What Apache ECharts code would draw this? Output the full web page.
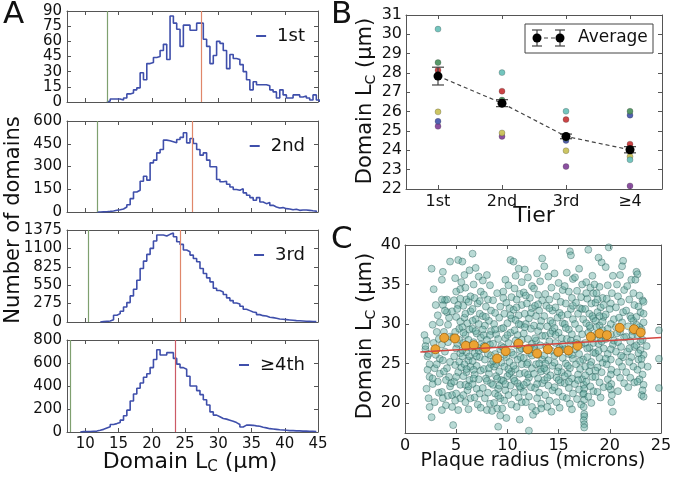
<!DOCTYPE html>
<html><head><meta charset="utf-8">
<script src="https://cdn.jsdelivr.net/npm/echarts@6/dist/echarts.min.js"></script>
<style>html,body{margin:0;padding:0;background:#fff}#c{width:677px;height:477px}</style>
</head><body><div id="c"></div>
<script>
// ---------- Panel A: histograms of domain Lc per tier ----------
const histBinWidth = 0.5;
const histStarts = [13.25, 11.75, 12.25, 9.25];
const hist1 = [1,3,3,3,2,4,8,9,12,14,29,22,38,39,44,45,51,57,42,85,78,72,55,76,76,71,71,78,78,62,55,38,46,60,58,51,33,47,43,42,37,30,22,12,20,17,17,17,16,12,10,4,12,7,4,4,7,7,5,6,4,2,7,2];
const hist2 = [0,1,2,4,7,11,15,20,33,48,88,132,143,203,236,210,324,342,390,412,474,470,463,456,478,492,523,456,485,452,412,375,390,342,298,298,214,199,203,183,165,148,143,154,126,110,95,77,95,66,55,62,44,33,26,29,22,20,15,18,11,13,13,11,8,6];
const hist3 = [5,10,15,35,100,125,160,225,290,390,490,625,800,910,1010,1100,1210,1300,1300,1285,1310,1330,1275,1200,1160,1075,1050,1000,950,900,800,725,660,600,505,470,450,410,360,320,285,270,235,190,170,150,140,110,95,90,70,65,55,45,40,35,30,25,20,18,15,12,10,8,6];
const hist4 = [3,3,4,6,8,15,23,35,45,65,73,82,103,141,190,270,330,380,426,476,506,560,630,715,670,670,690,690,640,590,560,545,485,400,400,360,325,280,235,175,147,133,118,112,103,94,82,65,44,60,60,58,53,50,41,36,29,26,23,20,18,15,12,12,10,10,8,8,7,6,5];
const histLabels = ['1st', '2nd', '3rd', '≥4th'];
const histYMax = [90, 600, 1375, 800];
const histYStep = [15, 150, 275, 200];
const greenLines = [13.25, 11.75, 10.5, 7.75];
const redLines = [27.5, 26.1, 24.35, 23.6];
const xTicksA = [10, 15, 20, 25, 30, 35, 40, 45];
const xMinA = 7.25, xMaxA = 45;

// ---------- Panel B: Lc per tier ----------
const tiers = ['1st', '2nd', '3rd', '≥4'];
const bCyan   = [30.27, 28.02, 26.02, 23.51];
const bGreen  = [28.54, 26.60, 24.62, 26.02];
const bRed    = [28.14, 27.06, 25.59, 24.32];
const bYellow = [25.99, 24.90, 23.98, 23.68];
const bBlue   = [25.50, 26.40, 24.51, 25.82];
const bPurple = [25.24, 24.72, 23.16, 22.16];
const bAvg    = [27.84, 26.44, 24.72, 24.03];
const bErr    = [0.46, 0.18, 0.12, 0.16];

// ---------- Panel C: Lc vs plaque radius ----------
const cAvgX = [2.97,3.83,4.88,5.94,6.73,7.85,9.0,9.83,11.08,12.0,12.9,13.95,14.97,15.96,16.85,18.14,19.0,19.72,20.97,22.36,23.02];
const cAvgY = [26.8,28.25,28.17,27.24,27.32,26.98,25.63,26.56,27.53,26.8,26.27,26.8,26.48,26.65,27.24,28.38,28.8,28.59,29.52,29.35,28.93];
const fitX = [1.5, 25];
const fitY = [26.45, 28.3];
const cScatter = [
[1.9,28.6],[2.1,27.9],[2.0,26.8],[2.2,25.9],[2.4,24.9],[2.2,24.2],[2.4,23.3],[2.1,21.8],[2.3,20.6],[2.4,19.5],[2.3,26.2],[2.0,27.2],
[2.6,37.0],[2.8,34.4],[3.0,32.4],[3.2,31.1],[2.7,29.9],[3.1,29.0],[3.4,25.6],[2.9,24.4],[3.4,23.7],[3.2,22.7],[2.6,18.2],[2.7,22.4],[3.0,26.1],[2.8,27.6],[3.3,28.1],[3.1,24.9],[2.9,20.1],[3.3,21.3],[3.4,30.2],[2.7,23.1],
[3.6,21.4],[3.7,20.6],[4.0,19.7],[3.6,19.1],[3.6,35.6],[3.7,36.6],[3.9,33.0],[3.7,32.4],[4.1,31.5],[4.2,29.9],[3.8,29.0],[4.2,27.7],[3.9,26.5],[4.4,25.2],[4.1,24.4],[4.3,23.3],[4.4,37.9],[3.8,24.0],[4.0,22.9],[3.6,27.4],[4.3,30.8],[3.9,31.7],[4.1,33.1],[4.4,22.1],[3.7,25.4],[4.2,20.9],[4.4,28.4],[3.6,33.1],
[4.5,22.5],[4.6,21.0],[4.6,19.5],[4.7,17.2],[5.2,38.1],[4.9,35.8],[5.0,34.1],[4.8,33.0],[5.2,32.4],[5.0,30.9],[5.4,30.3],[4.9,29.0],[5.3,28.0],[5.0,26.9],[5.4,26.3],[4.9,24.8],[5.2,23.9],[4.8,22.7],[5.4,22.3],[5.0,21.2],[5.4,20.6],[5.2,19.1],[5.1,27.5],[4.7,28.3],[5.3,25.2],[4.6,31.6],[5.4,33.2],[5.0,23.3],[4.8,25.9],[5.3,29.4],[5.5,35.3],[5.4,34.4],[5.1,31.9],[4.9,20.3],[5.5,24.5],
[5.6,37.9],[5.8,36.2],[5.9,34.6],[6.3,36.8],[6.0,33.1],[5.7,32.3],[6.2,32.8],[6.4,31.6],[5.8,30.8],[6.1,30.1],[5.6,29.6],[6.3,29.3],[5.9,28.6],[6.2,28.0],[5.7,27.6],[6.4,27.0],[6.0,26.4],[5.6,25.9],[6.2,25.4],[5.8,24.9],[6.4,24.6],[6.0,23.9],[5.7,23.4],[6.3,22.9],[5.9,22.3],[6.1,21.6],[5.7,21.0],[6.4,20.6],[5.9,20.1],[6.2,19.2],[5.6,26.7],[6.1,27.3],[5.9,31.3],[6.3,25.9],[6.0,24.3],[5.7,28.9],[6.4,33.5],[6.2,22.1],
[6.6,38.9],[6.9,37.1],[7.2,36.0],[6.7,35.0],[7.4,34.1],[6.8,33.3],[7.1,32.6],[6.6,31.9],[7.3,31.3],[6.9,30.6],[7.2,30.0],[6.6,29.4],[7.0,28.8],[7.4,28.3],[6.7,27.7],[7.1,27.0],[6.8,26.3],[7.3,25.8],[6.6,25.3],[7.0,24.7],[7.4,24.1],[6.8,23.6],[7.2,23.0],[6.6,22.4],[7.0,21.8],[7.3,21.2],[6.8,20.7],[7.1,19.8],[7.4,19.4],[6.7,23.1],[7.2,26.6],[6.9,29.1],[7.3,32.9],[6.7,24.2],[7.0,25.9],[7.4,27.4],[6.6,30.4],
[7.6,35.5],[8.0,36.2],[8.3,34.9],[7.7,33.7],[8.1,33.1],[7.9,32.2],[8.4,31.7],[7.6,31.0],[8.2,30.4],[7.8,29.8],[8.4,29.1],[7.7,28.6],[8.0,28.0],[8.3,27.4],[7.6,26.8],[8.1,26.2],[7.8,25.5],[8.4,24.9],[7.7,24.3],[8.2,23.7],[7.9,23.1],[8.4,22.5],[7.6,21.9],[8.1,21.3],[7.8,20.6],[8.3,19.9],[8.0,22.8],[7.7,27.2],[8.2,24.4],[8.4,26.0],[7.9,30.9],[8.0,19.1],[7.6,29.3],[8.3,28.6],
[8.6,33.0],[9.0,33.9],[9.3,32.2],[8.8,31.4],[9.2,30.8],[8.7,30.0],[9.4,29.4],[8.9,28.7],[9.1,28.1],[8.6,27.5],[9.3,26.8],[8.8,26.2],[9.0,25.6],[9.4,25.1],[8.7,24.6],[9.2,24.0],[8.9,23.4],[9.4,22.9],[8.6,22.3],[9.1,21.8],[8.8,21.2],[9.3,20.6],[8.7,20.0],[9.0,19.3],[8.5,19.0],[9.1,17.0],[9.3,18.4],[9.0,23.1],[9.2,22.2],[8.9,24.9],[9.4,27.2],[8.6,25.3],[9.1,20.9],[8.8,29.3],
[10.3,38.1],[9.8,35.6],[10.1,34.9],[9.6,34.1],[10.4,33.4],[9.9,32.7],[10.2,32.0],[9.7,31.3],[10.4,30.7],[10.0,30.1],[9.6,29.5],[10.3,28.9],[9.8,28.2],[10.1,27.6],[9.6,27.0],[10.4,26.4],[9.9,25.8],[10.2,25.2],[9.7,24.6],[10.4,24.0],[10.0,23.4],[9.6,22.8],[10.3,22.2],[9.8,21.6],[10.1,21.0],[9.7,20.3],[10.4,19.8],[9.5,19.3],[9.9,18.1],[10.2,23.7],[9.7,26.1],[10.0,28.6],[10.3,31.1],[9.8,22.4],[10.1,24.3],[9.6,33.3],
[10.6,37.9],[11.1,37.0],[10.8,36.1],[11.4,35.3],[10.7,34.5],[11.2,33.8],[10.9,33.1],[11.4,32.4],[10.6,31.8],[11.1,31.1],[10.8,30.5],[11.3,29.9],[10.7,29.2],[11.0,28.6],[11.4,28.0],[10.9,27.3],[11.2,26.7],[10.6,26.1],[11.0,25.5],[11.4,24.9],[10.8,24.3],[11.2,23.7],[10.6,23.1],[11.0,22.5],[11.3,21.9],[10.7,21.3],[11.1,20.7],[11.4,20.1],[10.9,19.5],[11.2,17.9],[10.7,22.8],[11.3,25.8],[10.8,27.9],[11.1,30.0],[10.6,24.7],[11.4,26.9],[10.9,32.1],[11.2,22.1],
[11.7,36.9],[12.0,35.9],[12.4,34.8],[11.6,34.0],[12.2,33.3],[11.9,32.6],[12.4,32.0],[11.7,31.3],[12.1,30.7],[11.8,30.0],[12.3,29.4],[11.6,28.8],[12.0,28.1],[12.4,27.5],[11.8,26.9],[12.2,26.3],[11.6,25.7],[12.0,25.1],[12.4,24.4],[11.7,23.8],[12.1,23.2],[11.9,22.6],[12.3,22.0],[11.6,21.4],[12.1,20.8],[11.8,20.1],[12.4,19.5],[12.1,16.5],[12.5,18.5],[11.9,24.9],[12.2,27.0],[11.7,29.6],[12.3,31.4],[11.6,22.3],[12.0,23.6],[12.4,26.0],[11.8,33.6],
[13.4,38.3],[12.9,36.4],[13.2,35.4],[12.6,34.5],[13.0,33.7],[13.4,33.0],[12.7,32.3],[13.1,31.7],[12.8,31.0],[13.3,30.4],[12.6,29.8],[13.0,29.1],[13.4,28.5],[12.8,27.9],[13.2,27.3],[12.6,26.7],[13.0,26.1],[13.4,25.5],[12.8,24.9],[13.2,24.3],[12.6,23.7],[13.0,23.1],[13.4,22.5],[12.7,21.9],[13.1,21.3],[12.9,20.6],[13.3,19.9],[12.8,19.0],[13.3,19.3],[13.1,25.0],[12.7,28.2],[13.2,29.7],[12.9,22.4],[13.0,32.5],[13.3,24.0],[12.6,27.0],
[13.6,37.3],[14.0,36.0],[14.3,34.6],[13.7,33.8],[14.1,33.1],[13.8,32.3],[14.4,31.7],[13.6,31.0],[14.2,30.4],[13.9,29.7],[14.4,29.1],[13.7,28.5],[14.1,27.8],[13.8,27.2],[14.3,26.6],[13.6,26.0],[14.0,25.4],[14.4,24.7],[13.8,24.1],[14.2,23.5],[13.6,22.9],[14.0,22.2],[14.4,21.6],[13.7,21.0],[14.1,20.3],[13.9,19.5],[14.3,18.9],[14.0,26.9],[13.7,25.0],[14.2,28.8],[13.9,23.2],[14.4,30.1],[13.6,24.4],[14.1,32.0],
[14.6,36.4],[15.0,35.2],[15.4,34.3],[14.8,33.5],[15.2,32.8],[14.7,32.1],[15.1,31.4],[14.9,30.8],[15.4,30.1],[14.6,29.5],[15.0,28.9],[15.3,28.2],[14.7,27.6],[15.1,27.0],[14.9,26.3],[15.4,25.7],[14.6,25.1],[15.0,24.5],[15.3,23.9],[14.8,23.2],[15.2,22.6],[14.6,22.0],[15.0,21.4],[15.4,20.8],[14.8,20.1],[15.1,19.4],[14.9,24.0],[15.2,26.7],[14.7,28.6],[15.3,31.1],[15.0,22.9],[14.6,26.0],[15.4,27.4],
[16.1,39.2],[16.2,38.7],[15.8,36.5],[16.4,35.7],[15.6,34.8],[16.0,34.1],[16.3,33.3],[15.7,32.6],[16.2,31.9],[15.9,31.2],[16.4,30.6],[15.6,30.0],[16.0,29.3],[16.3,28.7],[15.8,28.1],[16.2,27.4],[15.6,26.8],[16.0,26.2],[16.4,25.6],[15.7,25.0],[16.1,24.4],[15.9,23.7],[16.3,23.1],[15.6,22.5],[16.0,21.9],[16.4,21.2],[15.8,20.6],[16.1,19.9],[16.3,19.2],[15.9,24.7],[16.2,27.9],[15.7,29.5],[16.4,32.3],[16.0,22.7],[15.6,23.4],[16.3,26.1],
[17.0,37.0],[16.6,35.9],[17.3,35.0],[16.8,34.2],[17.2,33.4],[16.7,32.7],[17.1,32.0],[16.9,31.3],[17.4,30.6],[16.6,30.0],[17.0,29.4],[17.3,28.7],[16.8,28.1],[17.2,27.4],[16.6,26.8],[17.0,26.2],[17.4,25.5],[16.7,24.9],[17.1,24.3],[16.9,23.6],[17.3,23.0],[16.6,22.4],[17.0,21.7],[17.4,21.1],[16.8,20.5],[17.2,19.8],[17.45,22.3],[17.5,21.8],[17.45,21.2],[17.5,20.4],[17.45,19.5],[17.5,18.6],[17.5,18.3],[17.45,17.8],[17.5,17.3],[17.5,16.9],[17.1,25.3],[16.7,27.6],[17.3,31.9],[16.9,22.9],
[17.9,39.4],[18.3,36.1],[17.7,35.3],[18.1,34.6],[18.4,33.9],[17.8,33.2],[18.2,32.6],[17.6,31.9],[18.0,31.3],[18.4,30.7],[17.7,30.1],[18.1,29.5],[17.9,28.9],[18.3,28.3],[17.6,27.6],[18.0,27.0],[18.4,26.4],[17.8,25.8],[18.2,25.2],[17.6,24.6],[18.0,24.0],[18.3,23.3],[17.7,22.7],[18.1,22.1],[18.4,21.5],[17.9,20.8],[18.2,20.0],[18.0,29.8],[17.8,26.9],[18.3,31.0],[18.1,24.8],[17.7,33.9],[18.4,27.6],[17.6,23.5],
[18.9,38.4],[19.2,37.8],[18.5,35.0],[19.0,34.7],[18.7,33.9],[19.3,33.3],[18.6,32.7],[19.1,32.1],[18.8,31.5],[19.4,30.9],[18.6,30.4],[19.0,29.8],[19.3,29.2],[18.7,28.7],[19.1,28.1],[18.9,27.5],[19.4,26.9],[18.6,26.3],[19.0,25.7],[19.3,25.1],[18.8,24.5],[19.2,23.9],[18.6,23.3],[19.0,22.6],[19.4,22.0],[18.8,21.4],[19.1,20.7],[19.3,30.3],[18.7,29.6],[19.0,31.0],[18.9,26.6],[19.2,27.8],[18.6,24.1],[19.4,32.4],[18.8,33.1],
[19.9,39.7],[19.6,37.2],[20.3,36.1],[19.8,34.9],[20.2,33.9],[19.7,33.2],[20.1,32.6],[20.0,31.9],[19.6,31.2],[20.4,30.6],[20.1,30.0],[19.8,29.4],[20.1,28.7],[19.6,28.1],[20.3,27.4],[20.1,26.8],[19.8,26.2],[20.1,25.5],[19.7,24.9],[20.15,24.2],[20.1,23.6],[19.8,23.0],[20.15,22.4],[20.1,21.7],[20.2,21.0],[20.15,20.1],[20.3,18.9],[19.6,25.6],[20.4,27.9],[19.9,22.1],
[21.3,38.0],[21.2,37.3],[21.0,36.2],[20.7,35.0],[21.4,34.3],[20.8,33.5],[21.1,32.8],[20.6,32.1],[21.3,31.5],[20.9,30.8],[21.2,30.2],[20.6,29.6],[21.0,29.0],[21.4,28.3],[20.8,27.7],[21.1,27.1],[20.6,26.5],[21.3,25.8],[20.9,25.2],[21.2,24.6],[20.7,23.9],[21.0,23.2],[21.4,22.5],[20.8,21.5],[21.1,26.0],[20.7,28.8],
[22.1,35.6],[21.7,34.8],[22.3,33.9],[21.9,33.1],[22.4,32.4],[21.6,31.7],[22.0,31.0],[22.3,30.4],[21.8,29.7],[22.2,29.1],[21.6,28.4],[22.0,27.8],[22.4,27.1],[21.7,26.5],[22.1,25.8],[21.9,25.2],[22.3,24.6],[21.6,23.9],[22.0,23.2],[22.4,22.6],[21.8,22.0],[22.2,28.6],[21.9,26.9],[22.1,30.7],
[22.6,36.6],[22.7,36.3],[22.5,35.6],[23.2,33.0],[23.3,32.8],[22.8,32.2],[23.0,31.5],[22.6,30.9],[23.3,30.2],[22.9,29.6],[23.1,29.3],[22.7,28.6],[23.2,28.0],[22.6,27.3],[23.0,26.7],[23.3,26.1],[22.8,25.5],[23.1,24.8],[22.7,24.2],[23.2,23.6],[22.9,23.0],[23.3,22.3],[23.1,21.0],[23.3,20.8],[23.2,21.6],[22.8,26.3],[23.0,27.8],[22.6,29.9],[23.3,31.3],[22.9,33.6],[23.1,25.6],[22.7,22.7],
[24.8,29.2],[24.8,25.6],[24.8,21.9],[23.6,27.2],[23.7,24.6]
];

const FONT = 'DejaVu Sans';
const frameColor = '#555';
const histBlue = '#3f4fab';
const txt = '#111';

const grids = [
  {left: 67, top: 11, width: 251, height: 91},
  {left: 67, top: 121, width: 251, height: 91},
  {left: 67, top: 230, width: 251, height: 92},
  {left: 67, top: 340, width: 251, height: 92},
  {left: 406, top: 15, width: 256, height: 174},
  {left: 405, top: 245, width: 256, height: 188}
];

function plain(v) { return String(v); }
function ax(extra) {
  const base = {
    axisLine: {show: true, onZero: false, lineStyle: {color: frameColor, width: 1}},
    axisTick: {show: true, inside: true, length: 4, lineStyle: {color: frameColor}},
    axisLabel: {show: false, fontFamily: FONT, fontSize: 15, color: txt, margin: 5},
    splitLine: {show: false}
  };
  const o = Object.assign({}, base, extra);
  o.axisTick = Object.assign({}, base.axisTick, extra.axisTick || {});
  o.axisLabel = Object.assign({}, base.axisLabel, extra.axisLabel || {});
  if (o.type === 'value') o.axisLabel.formatter = plain;
  return o;
}

const xAxes = [], yAxes = [], series = [], legends = [];
const legendTop = [22, 132, 241, 351];
for (let i = 0; i < 4; i++) {
  const vals = [hist1, hist2, hist3, hist4][i];
  const s = histStarts[i];
  const data = [[s, 0]];
  for (let k = 0; k < vals.length; k++) data.push([s + (k + 1) * histBinWidth, vals[k]]);
  data.push([s + vals.length * histBinWidth, 0]);
  xAxes.push(ax({gridIndex: i, type: 'value', min: xMinA, max: xMaxA, position: 'bottom',
    axisTick: {customValues: xTicksA}, axisLabel: {show: i === 3, customValues: xTicksA}}));
  xAxes.push(ax({gridIndex: i, type: 'value', min: xMinA, max: xMaxA, position: 'top',
    axisTick: {customValues: xTicksA}}));
  yAxes.push(ax({gridIndex: i, type: 'value', min: 0, max: histYMax[i], interval: histYStep[i], position: 'left',
    axisLabel: {show: true}}));
  yAxes.push(ax({gridIndex: i, type: 'value', min: 0, max: histYMax[i], interval: histYStep[i], position: 'right'}));
  series.push({
    type: 'line', name: histLabels[i], xAxisIndex: 2 * i, yAxisIndex: 2 * i, data: data, step: 'start',
    symbol: 'none', showSymbol: false, lineStyle: {color: histBlue, width: 1.6}, itemStyle: {color: histBlue},
    animation: false, z: 3,
    markLine: {silent: true, symbol: ['none', 'none'], label: {show: false}, animation: false,
      data: [
        {xAxis: greenLines[i], lineStyle: {color: '#7fa06f', width: 1.2, type: 'solid'}},
        {xAxis: redLines[i], lineStyle: {color: i === 3 ? '#cc5a66' : '#e0876a', width: 1.2, type: 'solid'}}
      ]}
  });
  legends.push({data: [histLabels[i]], right: 367, top: legendTop[i], icon: 'rect', itemWidth: 10, itemHeight: 2,
    textStyle: {fontFamily: FONT, fontSize: 18, color: txt, padding: [0, 0, 0, 6]}, selectedMode: false});
}

// Panel B axes (grid 4)
xAxes.push(ax({gridIndex: 4, type: 'category', data: tiers, position: 'bottom', boundaryGap: true,
  axisTick: {alignWithLabel: true}, axisLabel: {show: true, margin: 5, fontSize: 16}}));
xAxes.push(ax({gridIndex: 4, type: 'category', data: tiers, position: 'top', boundaryGap: true,
  axisTick: {alignWithLabel: true}}));
yAxes.push(ax({gridIndex: 4, type: 'value', min: 22, max: 31, interval: 1, position: 'left',
  axisLabel: {show: true, margin: 4, fontSize: 16}}));
yAxes.push(ax({gridIndex: 4, type: 'value', min: 22, max: 31, interval: 1, position: 'right'}));

const bSeries = [
  [bPurple, '#85479b'], [bBlue, '#4a5aae'], [bYellow, '#c9c25a'],
  [bRed, '#c83a3c'], [bGreen, '#4f9462'], [bCyan, '#6cc2bb']
];
bSeries.forEach(function (p) {
  series.push({type: 'scatter', xAxisIndex: 8, yAxisIndex: 8, data: p[0], symbolSize: 6,
    itemStyle: {color: p[1], borderColor: 'rgba(40,40,40,0.5)', borderWidth: 0.5, opacity: 0.95},
    animation: false, z: 2});
});
series.push({type: 'line', xAxisIndex: 8, yAxisIndex: 8, data: bAvg, symbol: 'circle', symbolSize: 9,
  itemStyle: {color: '#000'}, lineStyle: {color: '#444', width: 1.2, type: [4, 3]}, animation: false, z: 5});
series.push({type: 'custom', xAxisIndex: 8, yAxisIndex: 8, z: 4, animation: false,
  data: bAvg.map(function (v, k) { return [k, v - bErr[k], v + bErr[k]]; }),
  renderItem: function (params, api) {
    const lo = api.coord([api.value(0), api.value(1)]);
    const hi = api.coord([api.value(0), api.value(2)]);
    const w = 6;
    const st = {stroke: '#444', lineWidth: 1.2};
    return {type: 'group', children: [
      {type: 'line', shape: {x1: lo[0], y1: lo[1], x2: hi[0], y2: hi[1]}, style: st},
      {type: 'line', shape: {x1: lo[0] - w, y1: lo[1], x2: lo[0] + w, y2: lo[1]}, style: st},
      {type: 'line', shape: {x1: hi[0] - w, y1: hi[1], x2: hi[0] + w, y2: hi[1]}, style: st}
    ]};
  }
});

// Panel C axes (grid 5)
const cYTicks = [20, 25, 30, 35, 40];
xAxes.push(ax({gridIndex: 5, type: 'value', min: 0, max: 25, interval: 5, position: 'bottom',
  axisLabel: {show: true, margin: 5, fontSize: 16}}));
xAxes.push(ax({gridIndex: 5, type: 'value', min: 0, max: 25, interval: 5, position: 'top'}));
yAxes.push(ax({gridIndex: 5, type: 'value', min: 16.2, max: 40, position: 'left',
  axisTick: {customValues: cYTicks}, axisLabel: {show: true, margin: 4, fontSize: 16, customValues: cYTicks}}));
yAxes.push(ax({gridIndex: 5, type: 'value', min: 16.2, max: 40, position: 'right',
  axisTick: {customValues: cYTicks}}));

series.push({type: 'scatter', xAxisIndex: 10, yAxisIndex: 10, symbolSize: 7, animation: false, z: 2,
  data: cScatter,
  itemStyle: {color: 'rgba(95,170,160,0.55)', borderColor: 'rgba(35,90,85,0.75)', borderWidth: 0.7}});
series.push({type: 'line', xAxisIndex: 10, yAxisIndex: 10, animation: false, z: 3,
  data: cAvgX.map(function (x, k) { return [x, cAvgY[k]]; }), symbol: 'circle', symbolSize: 9,
  lineStyle: {color: 'rgba(245,200,110,0.55)', width: 1},
  itemStyle: {color: '#eba333', borderColor: '#a0650f', borderWidth: 0.8}});
series.push({type: 'line', xAxisIndex: 10, yAxisIndex: 10, animation: false, z: 4,
  data: fitX.map(function (x, k) { return [x, fitY[k]]; }), symbol: 'none',
  lineStyle: {color: '#d4453f', width: 1.5}});

function lcLabel(size) {
  return {
    text: '{a|Domain L}{s|C}{a| (µm)}',
    rich: {
      a: {fontFamily: FONT, fontSize: size, fill: txt, lineHeight: size + 4},
      s: {fontFamily: FONT, fontSize: Math.round(size * 0.68), fill: txt, verticalAlign: 'bottom', lineHeight: Math.round(size * 0.68)}
    }
  };
}

const graphics = [
  {type: 'text', left: 3, top: -1, style: {text: 'A', font: '31px "DejaVu Sans"', fill: txt}},
  {type: 'text', left: 331, top: -1, style: {text: 'B', font: '31px "DejaVu Sans"', fill: txt}},
  {type: 'text', left: 331, top: 224, style: {text: 'C', font: '31px "DejaVu Sans"', fill: txt}},
  {type: 'text', x: 14, y: 220, rotation: Math.PI / 2, style: {text: 'Number of domains', font: '21px "DejaVu Sans"', fill: txt, align: 'center', verticalAlign: 'middle'}},
  {type: 'text', x: 190, y: 462, style: Object.assign(lcLabel(22), {align: 'center', verticalAlign: 'middle'})},
  {type: 'text', x: 366, y: 101, rotation: Math.PI / 2, style: Object.assign(lcLabel(21), {align: 'center', verticalAlign: 'middle'})},
  {type: 'text', x: 366, y: 336, rotation: Math.PI / 2, style: Object.assign(lcLabel(21), {align: 'center', verticalAlign: 'middle'})},
  {type: 'text', x: 534, y: 216, style: {text: 'Tier', font: '22px "DejaVu Sans"', fill: txt, align: 'center', verticalAlign: 'middle'}},
  {type: 'text', x: 533, y: 461, style: {text: 'Plaque radius (microns)', font: '19px "DejaVu Sans"', fill: txt, align: 'center', verticalAlign: 'middle'}},
  // legend of panel B
  {type: 'rect', shape: {x: 525, y: 24, width: 128, height: 29}, style: {fill: '#fff', stroke: '#444', lineWidth: 1}, z: 10},
  {type: 'line', shape: {x1: 537, y1: 38, x2: 560, y2: 38}, style: {stroke: '#444', lineWidth: 1.2, lineDash: [4, 3]}, z: 11},
  {type: 'line', shape: {x1: 537, y1: 30, x2: 537, y2: 46}, style: {stroke: '#444', lineWidth: 1.2}, z: 11},
  {type: 'line', shape: {x1: 532, y1: 30, x2: 542, y2: 30}, style: {stroke: '#444', lineWidth: 1.2}, z: 11},
  {type: 'line', shape: {x1: 532, y1: 46, x2: 542, y2: 46}, style: {stroke: '#444', lineWidth: 1.2}, z: 11},
  {type: 'line', shape: {x1: 560, y1: 30, x2: 560, y2: 46}, style: {stroke: '#444', lineWidth: 1.2}, z: 11},
  {type: 'line', shape: {x1: 555, y1: 30, x2: 565, y2: 30}, style: {stroke: '#444', lineWidth: 1.2}, z: 11},
  {type: 'line', shape: {x1: 555, y1: 46, x2: 565, y2: 46}, style: {stroke: '#444', lineWidth: 1.2}, z: 11},
  {type: 'circle', shape: {cx: 537, cy: 38, r: 4.5}, style: {fill: '#000'}, z: 12},
  {type: 'circle', shape: {cx: 560, cy: 38, r: 4.5}, style: {fill: '#000'}, z: 12},
  {type: 'text', x: 578, y: 38, style: {text: 'Average', font: '17px "DejaVu Sans"', fill: txt, verticalAlign: 'middle'}, z: 12}
];

const chart = echarts.init(document.getElementById('c'), null, {renderer: 'canvas'});
chart.setOption({
  backgroundColor: '#fff',
  animation: false,
  grid: grids,
  xAxis: xAxes,
  yAxis: yAxes,
  legend: legends,
  series: series,
  graphic: graphics
});
</script>
</body></html>
